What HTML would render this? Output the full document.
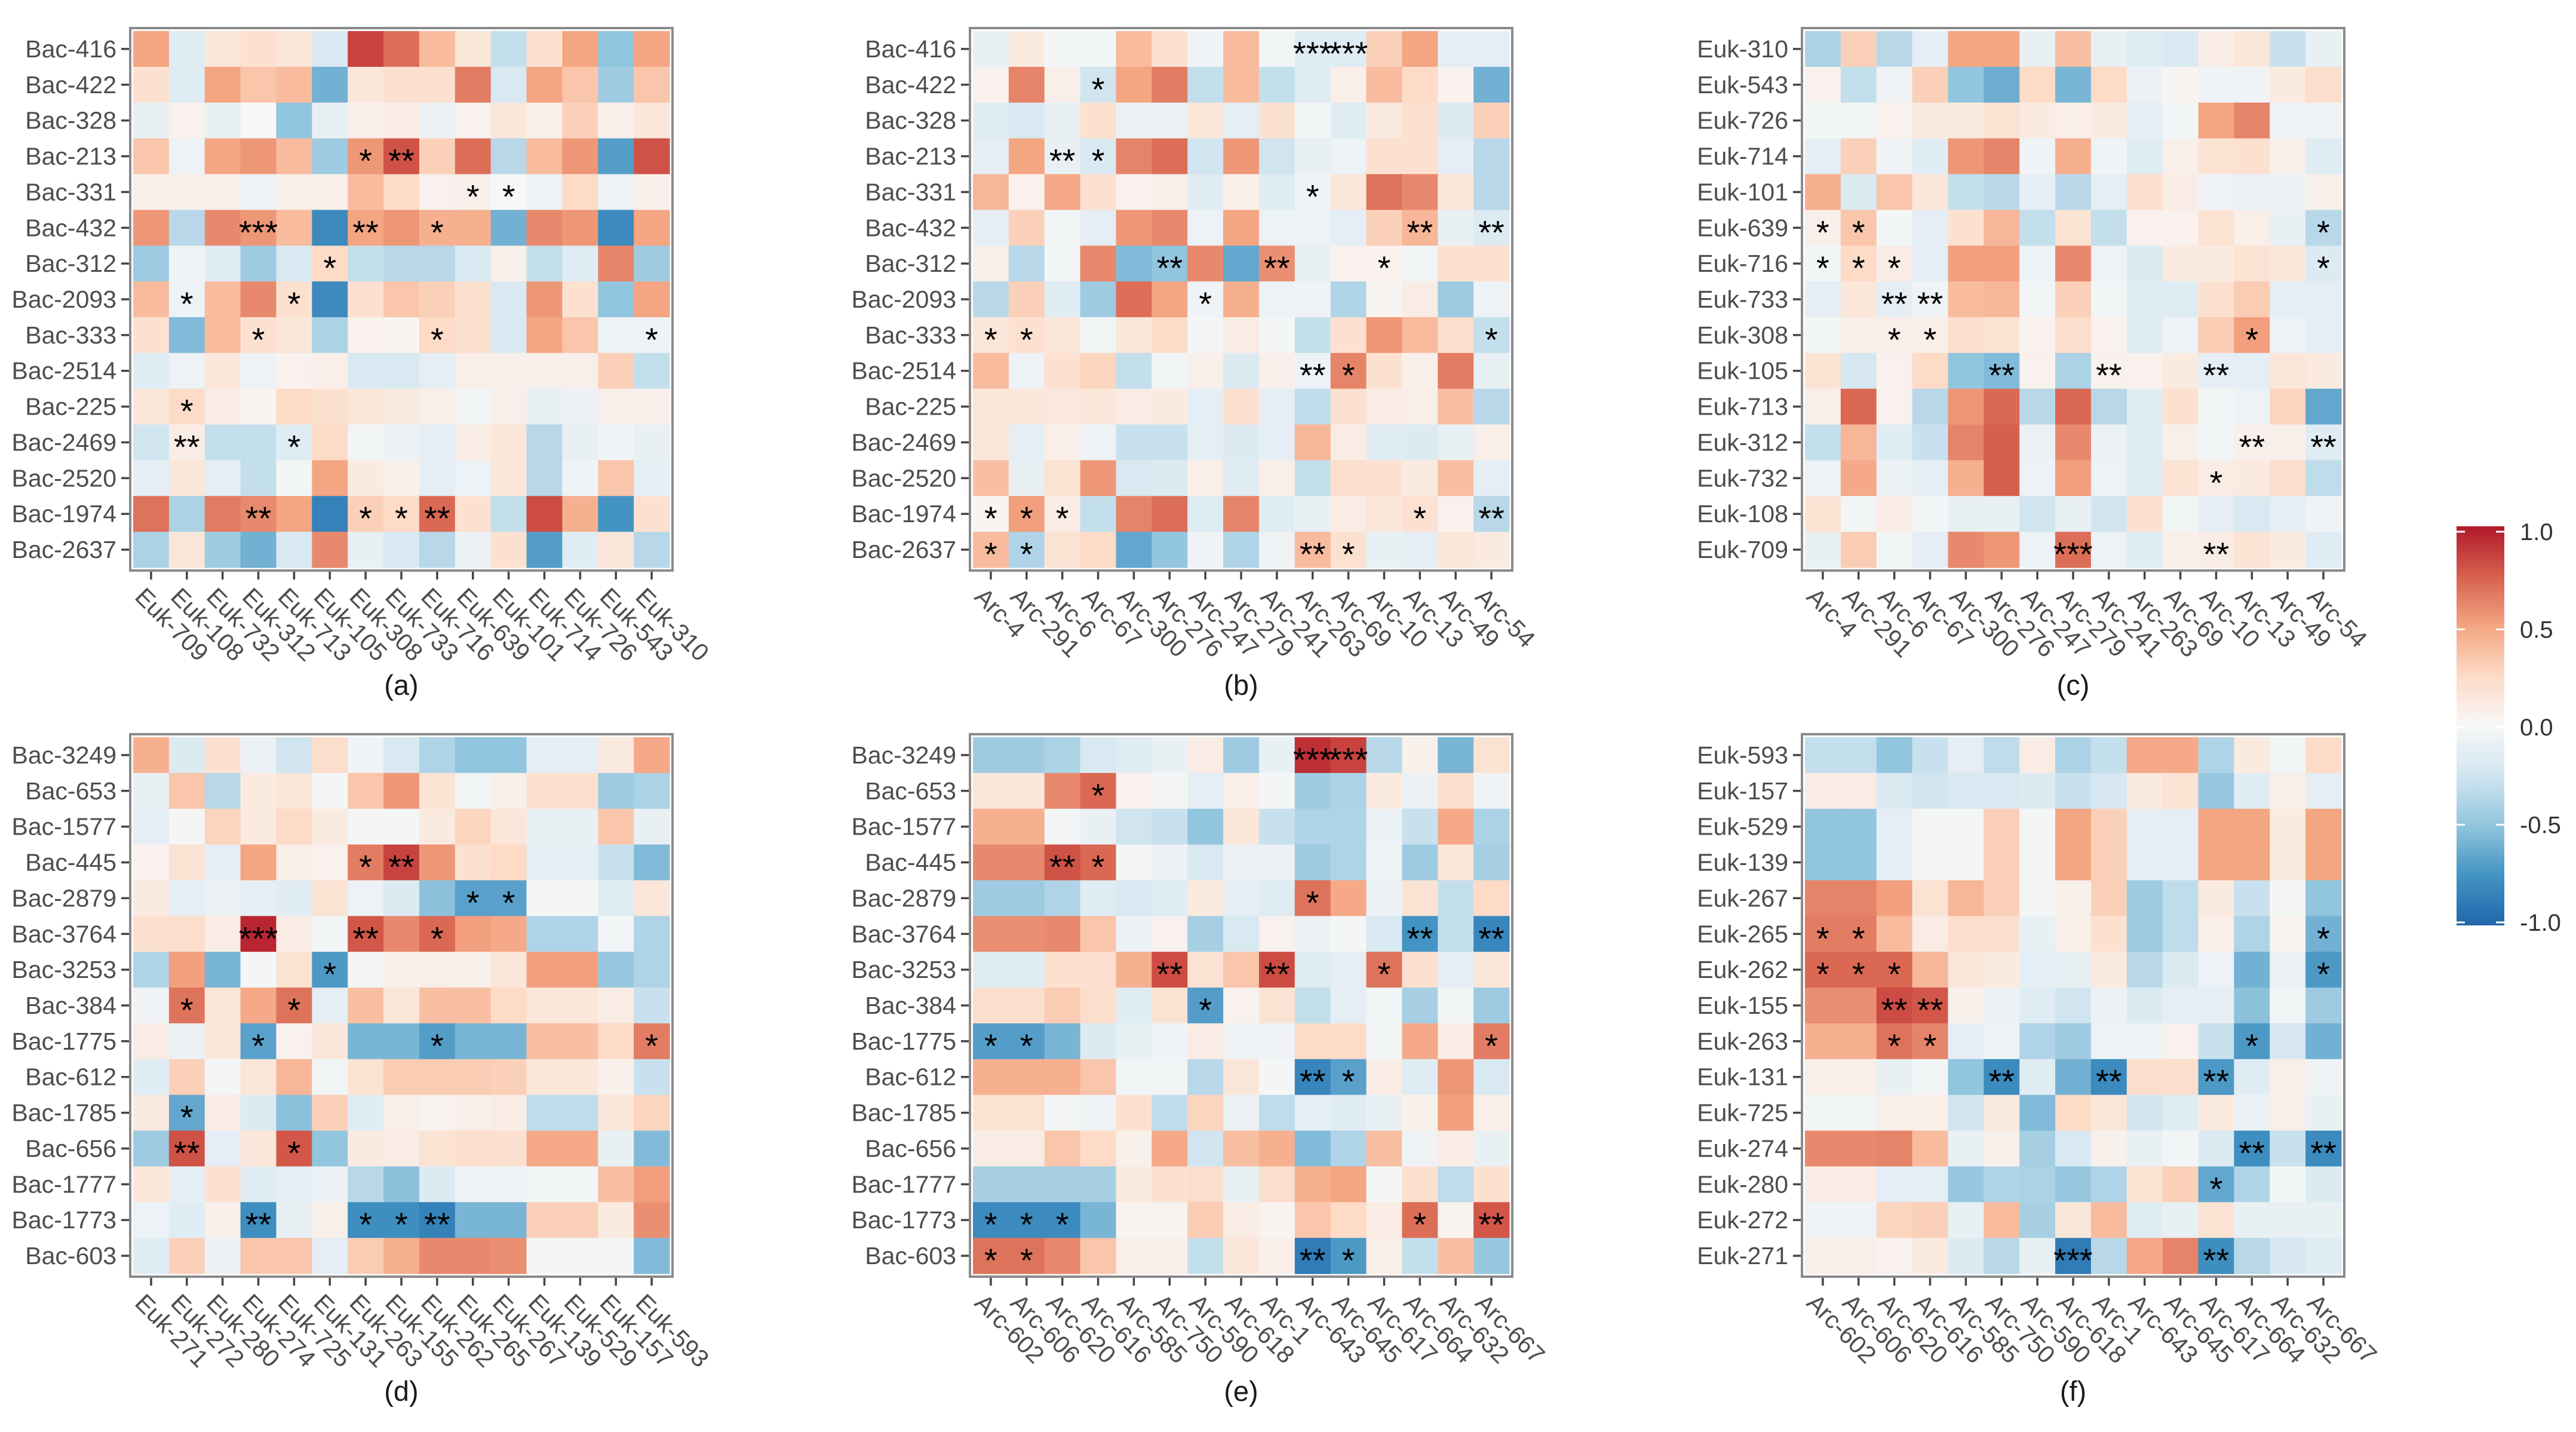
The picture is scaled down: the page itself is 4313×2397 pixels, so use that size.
<!DOCTYPE html>
<html><head><meta charset="utf-8">
<style>
html,body{margin:0;padding:0;background:#fff;}
svg{display:block;}
text{font-family:"Liberation Sans",sans-serif;}
</style></head>
<body>
<svg id="chart" xmlns="http://www.w3.org/2000/svg" width="4313" height="2397" viewBox="0 0 4313 2397">
<defs>
<linearGradient id="rdbu" x1="0" y1="0" x2="0" y2="1">
<stop offset="0" stop-color="#b2182b"/><stop offset="0.125" stop-color="#d6604d"/><stop offset="0.25" stop-color="#f4a582"/><stop offset="0.375" stop-color="#fddbc7"/><stop offset="0.5" stop-color="#f7f7f7"/><stop offset="0.625" stop-color="#d1e5f0"/><stop offset="0.75" stop-color="#92c5de"/><stop offset="0.875" stop-color="#4393c3"/><stop offset="1" stop-color="#2166ac"/>
</linearGradient>
</defs>
</svg>
<script>
// ---------- data ----------
const rowsBacA = ["Bac-416","Bac-422","Bac-328","Bac-213","Bac-331","Bac-432","Bac-312","Bac-2093","Bac-333","Bac-2514","Bac-225","Bac-2469","Bac-2520","Bac-1974","Bac-2637"];
const colsEukA = ["Euk-709","Euk-108","Euk-732","Euk-312","Euk-713","Euk-105","Euk-308","Euk-733","Euk-716","Euk-639","Euk-101","Euk-714","Euk-726","Euk-543","Euk-310"];
const colsArcTop = ["Arc-4","Arc-291","Arc-6","Arc-67","Arc-300","Arc-276","Arc-247","Arc-279","Arc-241","Arc-263","Arc-69","Arc-10","Arc-13","Arc-49","Arc-54"];
const rowsEukC = ["Euk-310","Euk-543","Euk-726","Euk-714","Euk-101","Euk-639","Euk-716","Euk-733","Euk-308","Euk-105","Euk-713","Euk-312","Euk-732","Euk-108","Euk-709"];
const rowsBacD = ["Bac-3249","Bac-653","Bac-1577","Bac-445","Bac-2879","Bac-3764","Bac-3253","Bac-384","Bac-1775","Bac-612","Bac-1785","Bac-656","Bac-1777","Bac-1773","Bac-603"];
const colsEukD = ["Euk-271","Euk-272","Euk-280","Euk-274","Euk-725","Euk-131","Euk-263","Euk-155","Euk-262","Euk-265","Euk-267","Euk-139","Euk-529","Euk-157","Euk-593"];
const colsArcBottom = ["Arc-602","Arc-606","Arc-620","Arc-616","Arc-585","Arc-750","Arc-590","Arc-618","Arc-1","Arc-643","Arc-645","Arc-617","Arc-664","Arc-632","Arc-667"];
const rowsEukF = ["Euk-593","Euk-157","Euk-529","Euk-139","Euk-267","Euk-265","Euk-262","Euk-155","Euk-263","Euk-131","Euk-725","Euk-274","Euk-280","Euk-272","Euk-271"];

const valuesA = [
[0.5,-0.15,0.15,0.2,0.15,-0.2,0.85,0.7,0.4,0.15,-0.3,0.2,0.5,-0.5,0.5],
[0.2,-0.15,0.5,0.35,0.4,-0.6,0.15,0.2,0.2,0.65,-0.2,0.5,0.35,-0.45,0.35],
[-0.1,0.05,-0.1,0.0,-0.5,-0.1,0.07,0.1,-0.08,0.05,0.15,0.07,0.3,0.07,0.15],
[0.35,-0.07,0.5,0.55,0.4,-0.45,0.55,0.8,0.3,0.7,-0.35,0.4,0.55,-0.7,0.8],
[0.07,0.07,0.07,-0.07,0.07,0.07,0.4,0.25,0.05,0.07,0.0,-0.07,0.25,-0.07,0.07],
[0.55,-0.35,0.6,0.55,0.4,-0.8,0.5,0.55,0.45,0.45,-0.6,0.6,0.55,-0.8,0.5],
[-0.45,-0.05,-0.15,-0.45,-0.2,0.25,-0.3,-0.35,-0.35,-0.2,0.07,-0.3,-0.15,0.62,-0.45],
[0.4,-0.07,0.4,0.6,0.2,-0.8,0.2,0.35,0.3,0.2,-0.2,0.55,0.2,-0.5,0.5],
[0.2,-0.55,0.4,0.2,0.15,-0.4,0.05,0.03,0.25,0.2,-0.2,0.5,0.35,-0.07,-0.05],
[-0.15,-0.07,0.15,-0.07,0.05,0.08,-0.2,-0.2,-0.12,0.08,0.07,0.07,0.07,0.3,-0.3],
[0.15,0.25,0.1,0.03,0.25,0.2,0.15,0.12,0.07,-0.03,0.07,-0.1,-0.08,0.07,0.07],
[-0.25,0.1,-0.3,-0.3,-0.15,0.25,-0.03,-0.08,-0.12,0.1,0.15,-0.35,-0.1,-0.05,-0.1],
[-0.12,0.15,-0.12,-0.3,-0.03,0.5,0.12,0.06,-0.12,-0.07,0.15,-0.35,-0.05,0.35,-0.12],
[0.68,-0.4,0.65,0.6,0.5,-0.85,0.3,0.25,0.72,0.2,-0.3,0.82,0.45,-0.75,0.2],
[-0.4,0.15,-0.45,-0.6,-0.2,0.6,-0.1,-0.2,-0.35,-0.08,0.2,-0.7,-0.15,0.15,-0.35]];
const valuesB = [
[-0.1,0.12,-0.03,-0.03,0.4,0.2,-0.05,0.4,-0.03,-0.15,-0.15,0.3,0.5,-0.12,-0.12],
[0.05,0.62,0.07,-0.25,0.5,0.65,-0.3,0.4,-0.3,-0.15,0.08,0.4,0.25,0.05,-0.6],
[-0.15,-0.2,-0.1,0.2,-0.08,-0.08,0.15,-0.12,0.2,-0.03,-0.15,0.12,0.2,-0.18,0.3],
[-0.12,0.5,-0.1,-0.2,0.62,0.7,-0.25,0.55,-0.25,-0.1,-0.07,0.2,0.2,-0.12,-0.35],
[0.42,0.05,0.48,0.2,0.05,0.07,-0.15,0.07,-0.15,-0.05,0.15,0.68,0.6,0.15,-0.35],
[-0.12,0.3,-0.03,-0.12,0.55,0.6,-0.07,0.5,-0.07,-0.07,-0.12,0.3,0.42,-0.1,-0.18],
[0.08,-0.35,-0.03,0.6,-0.55,-0.5,0.6,-0.65,0.58,-0.1,0.05,0.05,-0.03,0.2,0.2],
[-0.35,0.3,-0.15,-0.45,0.7,0.5,-0.05,0.45,-0.07,-0.05,-0.38,0.03,0.1,-0.45,-0.07],
[0.15,0.2,0.15,-0.03,0.15,0.25,-0.02,0.1,-0.02,-0.3,0.2,0.55,0.4,0.22,-0.3],
[0.4,-0.07,0.2,0.28,-0.3,-0.03,0.07,-0.18,0.07,-0.07,0.62,0.2,0.07,0.65,-0.1],
[0.15,0.15,0.13,0.15,0.1,0.12,-0.12,0.2,-0.12,-0.32,0.2,0.1,0.08,0.38,-0.35],
[0.15,-0.12,0.08,-0.07,-0.28,-0.28,-0.12,-0.18,-0.12,0.42,0.1,-0.15,-0.18,-0.1,0.08],
[0.38,-0.1,0.18,0.55,-0.2,-0.18,0.08,-0.15,0.08,-0.3,0.22,0.2,0.12,0.38,-0.12],
[0.03,0.52,0.1,-0.3,0.62,0.7,-0.15,0.62,-0.15,-0.1,0.1,0.15,0.2,0.05,-0.35],
[0.4,-0.38,0.18,0.25,-0.65,-0.5,-0.05,-0.38,-0.05,0.4,0.2,-0.1,-0.12,0.15,0.12]];
const valuesC = [
[-0.4,0.3,-0.35,-0.12,0.5,0.5,-0.1,0.38,-0.1,-0.15,-0.2,0.1,0.15,-0.28,-0.1],
[0.05,-0.3,-0.05,0.3,-0.5,-0.62,0.25,-0.58,0.25,-0.08,0.03,-0.05,-0.05,0.12,0.22],
[-0.03,-0.03,0.05,0.12,0.12,0.18,0.12,0.08,0.12,-0.12,-0.03,0.5,0.62,-0.05,-0.05],
[-0.12,0.3,-0.05,-0.15,0.55,0.62,-0.05,0.45,-0.05,-0.15,0.07,0.18,0.2,0.06,-0.15],
[0.45,-0.18,0.35,0.15,-0.3,-0.35,-0.12,-0.35,-0.12,0.22,0.1,-0.05,-0.08,-0.08,0.07],
[0.07,0.35,-0.03,-0.12,0.2,0.42,-0.3,0.18,-0.3,0.05,0.05,0.18,0.08,-0.1,-0.35],
[-0.03,0.25,0.1,-0.12,0.52,0.52,-0.07,0.6,-0.07,-0.18,0.12,0.12,0.18,0.15,-0.18],
[-0.12,0.15,-0.12,-0.05,0.4,0.42,-0.03,0.3,-0.03,-0.15,-0.15,0.2,0.32,-0.12,-0.12],
[-0.03,0.08,0.08,0.08,0.22,0.18,0.05,0.22,0.05,-0.15,-0.07,0.32,0.52,-0.05,-0.12],
[0.18,-0.22,0.05,0.25,-0.5,-0.55,0.05,-0.4,0.05,0.05,0.12,-0.12,-0.12,0.15,0.12],
[0.08,0.72,0.05,-0.35,0.55,0.72,-0.35,0.72,-0.35,-0.15,0.2,-0.03,-0.07,0.28,-0.65],
[-0.3,0.42,-0.15,-0.28,0.62,0.75,-0.08,0.6,-0.08,-0.15,0.07,-0.03,0.07,0.07,-0.15],
[-0.07,0.48,-0.08,-0.12,0.45,0.75,-0.07,0.52,-0.07,-0.15,0.18,0.1,0.12,0.22,-0.32],
[0.18,-0.03,0.1,-0.03,-0.1,-0.1,-0.25,-0.1,-0.25,0.2,-0.03,-0.12,-0.2,-0.12,-0.05],
[-0.1,0.32,-0.03,-0.12,0.6,0.55,-0.07,0.7,-0.07,-0.15,0.07,0.1,0.18,0.12,-0.15]];
const valuesD = [
[0.45,-0.18,0.2,-0.08,-0.25,0.22,-0.05,-0.2,-0.38,-0.5,-0.5,-0.12,-0.12,0.12,0.48],
[-0.1,0.35,-0.35,0.12,0.15,-0.02,0.35,0.55,0.18,-0.03,0.06,0.2,0.2,-0.45,-0.4],
[-0.12,-0.02,0.28,0.12,0.25,0.12,-0.02,-0.02,0.12,0.28,0.15,-0.1,-0.1,0.35,-0.1],
[0.05,0.18,-0.12,0.5,0.08,0.05,0.65,0.85,0.55,0.2,0.25,-0.12,-0.12,-0.28,-0.55],
[0.12,-0.12,-0.08,-0.12,-0.15,0.18,-0.07,-0.18,-0.52,-0.68,-0.68,-0.02,-0.02,-0.15,0.15],
[0.2,0.22,0.1,0.95,0.1,-0.03,0.78,0.6,0.72,0.52,0.48,-0.38,-0.38,-0.03,-0.38],
[-0.38,0.52,-0.58,-0.02,0.18,-0.72,-0.02,0.06,0.08,0.06,0.15,0.52,0.52,-0.48,-0.38],
[-0.05,0.68,0.15,0.48,0.68,-0.12,0.38,0.15,0.38,0.38,0.25,0.15,0.15,0.1,-0.28],
[0.1,-0.08,0.15,-0.68,0.05,0.15,-0.58,-0.58,-0.7,-0.58,-0.58,0.38,0.38,0.25,0.65],
[-0.15,0.3,-0.02,0.15,0.42,-0.03,0.18,0.32,0.32,0.32,0.3,0.15,0.15,0.06,-0.28],
[0.12,-0.65,0.1,-0.18,-0.52,0.3,-0.15,0.08,0.04,0.07,0.1,-0.32,-0.32,0.15,0.28],
[-0.45,0.8,-0.12,0.15,0.78,-0.5,0.12,0.1,0.18,0.22,0.2,0.48,0.48,-0.1,-0.55],
[0.15,-0.12,0.2,-0.15,-0.12,-0.08,-0.35,-0.52,-0.18,-0.05,-0.05,-0.03,-0.03,0.38,0.52],
[-0.07,-0.15,0.06,-0.78,-0.1,0.07,-0.78,-0.78,-0.85,-0.58,-0.58,0.3,0.3,0.12,0.58],
[-0.15,0.3,-0.08,0.35,0.35,-0.12,0.32,0.45,0.6,0.6,0.58,-0.02,-0.02,-0.02,-0.55]];
const valuesE = [
[-0.45,-0.45,-0.4,-0.2,-0.15,-0.1,0.1,-0.45,-0.1,0.92,0.85,-0.35,0.06,-0.58,0.18],
[0.15,0.15,0.6,0.72,0.05,-0.02,-0.12,0.08,-0.02,-0.45,-0.4,0.12,-0.08,0.22,-0.05],
[0.45,0.45,-0.02,-0.1,-0.25,-0.28,-0.5,0.15,-0.28,-0.38,-0.38,-0.08,-0.28,0.48,-0.4],
[0.6,0.6,0.8,0.72,-0.02,-0.08,-0.2,-0.08,-0.08,-0.45,-0.38,-0.05,-0.45,0.15,-0.42],
[-0.45,-0.45,-0.38,-0.15,-0.2,-0.15,0.12,-0.12,-0.15,0.68,0.48,-0.08,0.18,-0.3,0.25],
[0.58,0.58,0.6,0.35,-0.08,0.05,-0.42,-0.2,0.05,-0.08,-0.02,-0.2,-0.75,-0.3,-0.82],
[-0.15,-0.15,0.2,0.2,0.45,0.82,0.18,0.35,0.82,-0.15,-0.12,0.68,0.2,-0.12,0.15],
[0.22,0.22,0.32,0.22,-0.15,0.18,-0.7,0.05,0.18,-0.3,-0.12,-0.03,-0.42,-0.03,-0.45],
[-0.7,-0.7,-0.58,-0.18,-0.1,-0.05,0.1,-0.05,-0.05,0.25,0.25,-0.03,0.48,0.1,0.65],
[0.45,0.45,0.45,0.35,-0.03,-0.03,-0.35,0.15,-0.02,-0.82,-0.68,0.1,-0.15,0.55,-0.2],
[0.18,0.18,-0.02,-0.05,0.2,-0.32,0.28,-0.08,-0.32,-0.12,-0.15,-0.1,0.06,0.52,0.08],
[0.1,0.1,0.35,0.25,0.06,0.48,-0.25,0.38,0.45,-0.55,-0.38,0.38,-0.05,0.1,-0.1],
[-0.42,-0.42,-0.42,-0.42,0.12,0.2,0.22,-0.1,0.22,0.45,0.5,-0.02,0.2,-0.32,0.2],
[-0.8,-0.8,-0.8,-0.58,0.04,0.04,0.32,0.1,0.04,0.35,0.25,0.1,0.7,0.04,0.78],
[0.68,0.68,0.6,0.35,0.08,0.08,-0.3,0.15,0.08,-0.88,-0.72,0.08,-0.3,0.38,-0.48]];
const valuesF = [
[-0.3,-0.3,-0.5,-0.28,-0.12,-0.32,0.1,-0.4,-0.3,0.48,0.48,-0.38,0.12,-0.03,0.25],
[0.1,0.1,-0.18,-0.25,-0.2,-0.2,-0.18,-0.28,-0.22,0.12,0.18,-0.48,-0.15,0.08,-0.12],
[-0.5,-0.5,-0.12,-0.02,-0.02,0.3,-0.02,0.5,0.3,-0.12,-0.12,0.5,0.5,0.12,0.5],
[-0.5,-0.5,-0.12,-0.02,-0.02,0.3,-0.02,0.5,0.3,-0.12,-0.12,0.5,0.5,0.12,0.5],
[0.62,0.62,0.52,0.18,0.42,0.3,-0.02,0.06,0.3,-0.45,-0.32,0.12,-0.28,-0.02,-0.5],
[0.65,0.65,0.4,0.1,0.22,0.22,-0.1,0.08,0.2,-0.45,-0.32,0.08,-0.38,0.04,-0.6],
[0.72,0.72,0.72,0.42,0.15,0.12,-0.12,-0.1,0.12,-0.35,-0.18,-0.07,-0.6,-0.08,-0.72],
[0.58,0.58,0.82,0.78,0.06,-0.08,-0.15,-0.25,-0.08,-0.18,-0.12,-0.12,-0.52,-0.03,-0.45],
[0.45,0.45,0.68,0.62,-0.12,-0.07,-0.38,-0.45,-0.07,-0.07,0.05,-0.28,-0.72,-0.22,-0.6],
[0.08,0.08,-0.1,-0.03,-0.5,-0.8,-0.15,-0.6,-0.8,0.22,0.22,-0.72,-0.15,0.08,-0.05],
[-0.03,-0.03,0.08,0.08,-0.25,0.12,-0.55,0.25,0.15,-0.25,-0.15,0.12,-0.08,0.08,-0.1],
[0.6,0.6,0.62,0.4,-0.1,0.07,-0.42,-0.2,0.06,-0.1,-0.03,-0.18,-0.78,-0.28,-0.8],
[0.1,0.1,-0.12,-0.12,-0.48,-0.38,-0.4,-0.48,-0.38,0.18,0.3,-0.65,-0.38,-0.03,-0.18],
[-0.05,-0.05,0.28,0.3,-0.1,0.4,-0.42,0.15,0.4,-0.15,-0.1,0.18,-0.1,-0.1,-0.1],
[0.08,0.08,0.05,0.12,-0.18,-0.35,-0.1,-0.88,-0.35,0.48,0.62,-0.78,-0.35,-0.22,-0.15]];

const starsAD = [[3,6,"*"],[3,7,"**"],[4,9,"*"],[4,10,"*"],[5,3,"***"],[5,6,"**"],[5,8,"*"],[6,5,"*"],[7,1,"*"],[7,4,"*"],[8,3,"*"],[8,8,"*"],[8,14,"*"],[10,1,"*"],[11,1,"**"],[11,4,"*"],[13,3,"**"],[13,6,"*"],[13,7,"*"],[13,8,"**"]];
const starsBE = [[0,9,"***"],[0,10,"***"],[1,3,"*"],[3,2,"**"],[3,3,"*"],[4,9,"*"],[5,12,"**"],[5,14,"**"],[6,5,"**"],[6,8,"**"],[6,11,"*"],[7,6,"*"],[8,0,"*"],[8,1,"*"],[8,14,"*"],[9,9,"**"],[9,10,"*"],[13,0,"*"],[13,1,"*"],[13,2,"*"],[13,12,"*"],[13,14,"**"],[14,0,"*"],[14,1,"*"],[14,9,"**"],[14,10,"*"]];
const starsCF = [[5,0,"*"],[5,1,"*"],[5,14,"*"],[6,0,"*"],[6,1,"*"],[6,2,"*"],[6,14,"*"],[7,2,"**"],[7,3,"**"],[8,2,"*"],[8,3,"*"],[8,12,"*"],[9,5,"**"],[9,8,"**"],[9,11,"**"],[11,12,"**"],[11,14,"**"],[12,11,"*"],[14,7,"***"],[14,11,"**"]];
const legendTicks = [1.0, 0.5, 0.0, -0.5, -1.0];
const legendLabels = ["1.0","0.5","0.0","-0.5","-1.0"];

// ---------- rendering ----------
const NS = "http://www.w3.org/2000/svg";
const svg = document.getElementById("chart");
const stops = ["#2166ac","#4393c3","#92c5de","#d1e5f0","#f7f7f7","#fddbc7","#f4a582","#d6604d","#b2182b"];
function hex(h){return [1,3,5].map(i=>parseInt(h.substr(i,2),16));}
function color(v){
  v=Math.max(-1,Math.min(1,v));
  const t=(v+1)/2*(stops.length-1);
  const i=Math.min(stops.length-2,Math.floor(t)), f=t-i;
  const a=hex(stops[i]), b=hex(stops[i+1]);
  return "rgb("+a.map((c,k)=>Math.round(c+(b[k]-c)*f)).join(",")+")";
}
function mk(tag, attrs, parent){
  const e=document.createElementNS(NS,tag);
  for(const k in attrs) e.setAttribute(k,attrs[k]);
  (parent||svg).appendChild(e);
  return e;
}
const SIZE=898, N=15, CELL=SIZE/N;
const panels = [
 {id:"a", x:223, y:52, rows:rowsBacA, cols:colsEukA, vals:valuesA, stars:starsAD},
 {id:"b", x:1629, y:52, rows:rowsBacA, cols:colsArcTop, vals:valuesB, stars:starsBE},
 {id:"c", x:3022, y:52, rows:rowsEukC, cols:colsArcTop, vals:valuesC, stars:starsCF},
 {id:"d", x:223, y:1234, rows:rowsBacD, cols:colsEukD, vals:valuesD, stars:starsAD},
 {id:"e", x:1629, y:1234, rows:rowsBacD, cols:colsArcBottom, vals:valuesE, stars:starsBE},
 {id:"f", x:3022, y:1234, rows:rowsEukF, cols:colsArcBottom, vals:valuesF, stars:starsCF}
];
panels.forEach(p=>{
  const g=mk("g",{});
  
  
  const xs=c=>p.x+c*CELL, ys=r=>p.y+r*CELL;
  p.vals.forEach((row,r)=>row.forEach((v,c)=>{
    const rc=mk("rect",{x:xs(c),y:ys(r),width:CELL+0.6,height:CELL+0.6,fill:color(v)},g);
    
    
  }));
  const bd=mk("rect",{x:p.x-5,y:p.y-5,width:SIZE+10,height:SIZE+10,fill:"none",stroke:"#8a8a8a","stroke-width":4},g);
  
  
  p.rows.forEach((name,r)=>{
    const cy=ys(r)+CELL/2;
    mk("line",{x1:p.x-20,x2:p.x-7,y1:cy,y2:cy,stroke:"#444","stroke-width":3.5},g);
    const t=mk("text",{x:p.x-28,y:cy+14,"text-anchor":"end","font-size":41,fill:"#4d4d4d"},g);
    t.textContent=name;
    
    
  });
  p.cols.forEach((name,c)=>{
    const cx=xs(c)+CELL/2;
    mk("line",{x1:cx,x2:cx,y1:p.y+SIZE+7,y2:p.y+SIZE+20,stroke:"#444","stroke-width":3.5},g);
    const t=mk("text",{transform:"translate("+(cx-8)+","+(p.y+SIZE+30)+") rotate(45)",x:0,y:30,"text-anchor":"start","font-size":41,fill:"#4d4d4d"},g);
    t.textContent=name;
    
    
  });
  p.stars.forEach(s=>{
    const t=mk("text",{x:xs(s[1])+CELL/2,y:ys(s[0])+CELL/2+27,"text-anchor":"middle","font-size":56,fill:"#000"},g);
    t.textContent=s[2];
    
    
  });
  const lab=mk("text",{x:p.x+SIZE/2,y:p.y+SIZE+213,"text-anchor":"middle","font-size":47,fill:"#1a1a1a"},g);
  lab.textContent="("+p.id+")";
  
  
});
// legend
const lg=mk("g",{});


const LX=4113, LW=80, LTOP=881, LBOT=1549;
const ly=v=>1217 - v*327;
const bar=mk("rect",{x:LX,y:LTOP,width:LW,height:LBOT-LTOP,fill:"url(#rdbu)"},lg);


legendTicks.forEach((v,i)=>{
  const y=ly(v);
  mk("line",{x1:LX,x2:LX+14,y1:y,y2:y,stroke:"#fff","stroke-width":3},lg);
  mk("line",{x1:LX+LW-14,x2:LX+LW,y1:y,y2:y,stroke:"#fff","stroke-width":3},lg);
  const t=mk("text",{x:LX+106,y:y+14,"font-size":40,fill:"#333"},lg);
  t.textContent=legendLabels[i];
  
  
});
</script>
</body></html>
